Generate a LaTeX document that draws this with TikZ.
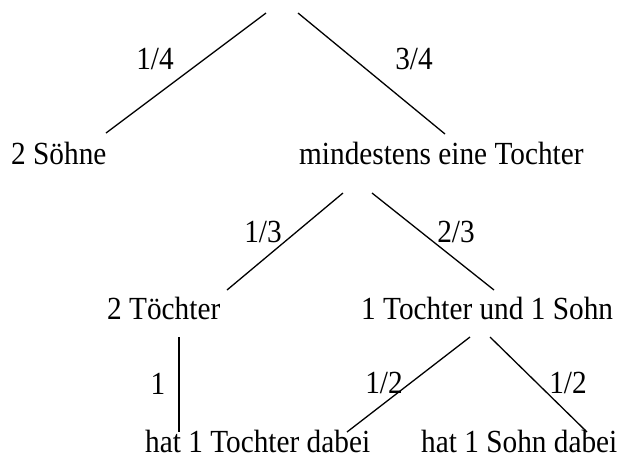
\documentclass[tikz,border=0pt]{standalone}
\usepackage{fontspec}
\setmainfont{Liberation Serif}
\newcommand\talltxt[1]{\scalebox{1}[1.1]{#1}}
\begin{document}
\begin{tikzpicture}[x=1pt,y=-1pt,
  txt/.style={anchor=base west,inner sep=0pt,font=\fontsize{29.3}{34}\selectfont},
  lbl/.style={anchor=base,inner sep=0pt,font=\fontsize{29.3}{34}\selectfont},
  edge/.style={line width=1.3pt,black}]
\useasboundingbox (0,0) rectangle (621,459);
% nodes
\node[txt] (s)  at (11,164)  {\talltxt{2 Söhne}};
\node[txt] (m)  at (299,164) {\talltxt{mindestens eine Tochter}};
\node[txt] (tt) at (107,319) {\talltxt{2 Töchter}};
\node[txt] (ts) at (361,319) {\talltxt{1 Tochter und 1 Sohn}};
\node[txt] (ht) at (145,452) {\talltxt{hat 1 Tochter dabei}};
\node[txt] (hs) at (421,452) {\talltxt{hat 1 Sohn dabei}};
% connector end points
\coordinate (rootL) at (266,13);
\coordinate (rootR) at (298,13);
\coordinate (sTop) at (106,133);
\coordinate (mTop) at (445,134);
\coordinate (mBotL) at (343,193);
\coordinate (mBotR) at (372,193);
\coordinate (ttTop) at (227,290);
\coordinate (tsTop) at (494,290);
\coordinate (ttBot) at (179,337);
\coordinate (htTop) at (179,432);
\coordinate (tsBotL) at (470,337);
\coordinate (tsBotR) at (490,337);
\coordinate (htTopR) at (347,432);
\coordinate (hsTop) at (587,432);
% connectors
\draw[edge] (rootL) -- (sTop);
\draw[edge] (rootR) -- (mTop);
\draw[edge] (mBotL) -- (ttTop);
\draw[edge] (mBotR) -- (tsTop);
\draw[edge] (ttBot) -- (htTop);
\draw[edge] (tsBotL) -- (htTopR);
\draw[edge] (tsBotR) -- (hsTop);
% labels
\node[lbl] (p1) at (155,69) {\talltxt{1/4}};
\node[lbl] (p2) at (414,69) {\talltxt{3/4}};
\node[lbl] (p3) at (263,242) {\talltxt{1/3}};
\node[lbl] (p4) at (456,242) {\talltxt{2/3}};
\node[lbl] (p5) at (158,394) {\talltxt{1}};
\node[lbl] (p6) at (384,393) {\talltxt{1/2}};
\node[lbl] (p7) at (568,393) {\talltxt{1/2}};
\end{tikzpicture}
\end{document}
